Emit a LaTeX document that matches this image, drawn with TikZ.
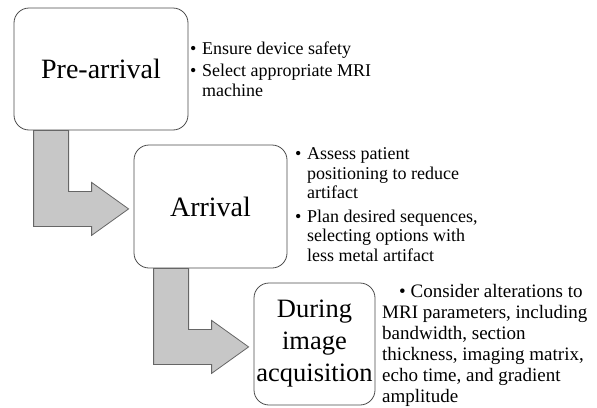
\documentclass[tikz,border=0pt]{standalone}
\usepackage{fontspec}
\setmainfont{Liberation Serif}
\usetikzlibrary{calc}
\def\bul{\makebox[12pt][l]{\textbullet}}
\def\ind{\hspace*{12pt}}
\def\bentarrow(#1){\draw[flow] ($(#1)+(20,0)$) -- ++(35,0) -- ++(0,61) -- ++(23,0) -- ++(0,-9) -- ++(37,26.5) -- ++(-37,26.5) -- ++(0,-9) -- ++(-58,0) -- cycle;}

\begin{document}
\begin{tikzpicture}[x=1pt, y=-1pt,
		stage/.style={draw=black!70, line width=0.8pt, rounded corners=15, fill=white, align=center, inner sep=0pt, font=\fontsize{28}{31}\selectfont},
		notes/.style={anchor=north west, align=left, inner sep=0pt, font=\fontsize{18}{19.5}\selectfont},
		flow/.style={fill=black!22, draw=black!60, line width=0.8pt}]
		%%%%% START %%%%%
		
		\useasboundingbox (0, 0) rectangle (597, 407);
		
		\node[stage, minimum width=174, minimum height=122] (pre) at (101, 69) {Pre-arrival};
		\node[stage, minimum width=153, minimum height=123] (arr) at (210.5, 206.5) {Arrival};
		\node[stage, minimum width=121, minimum height=122, font=\fontsize{26.5}{32}\selectfont] (acq) at (314.5, 344) {During\\image\\acquisition};
		
		\bentarrow(pre.south west)
		\bentarrow(arr.south west)
		
		\node[notes, font=\fontsize{18}{20.5}\selectfont] (prenotes) at (190, 41.5) {\bul Ensure device safety\\[1.5pt]
			\bul Select appropriate MRI\\ \ind machine};
		\node[notes] (arrnotes) at (295, 147.5) {\bul Assess patient\\ \ind positioning to reduce\\ \ind artifact\\[4pt]
			\bul Plan desired sequences,\\ \ind selecting options with\\ \ind less metal artifact};
		\node[notes, font=\fontsize{19}{21}\selectfont] (acqnotes) at (382, 284) {\hspace*{17pt}\textbullet\ Consider alterations to\\
			MRI parameters, including\\ bandwidth, section\\ thickness, imaging matrix,\\
			echo time, and gradient\\ amplitude};
		
		%%%%% END %%%%%
\end{tikzpicture}
\end{document}
